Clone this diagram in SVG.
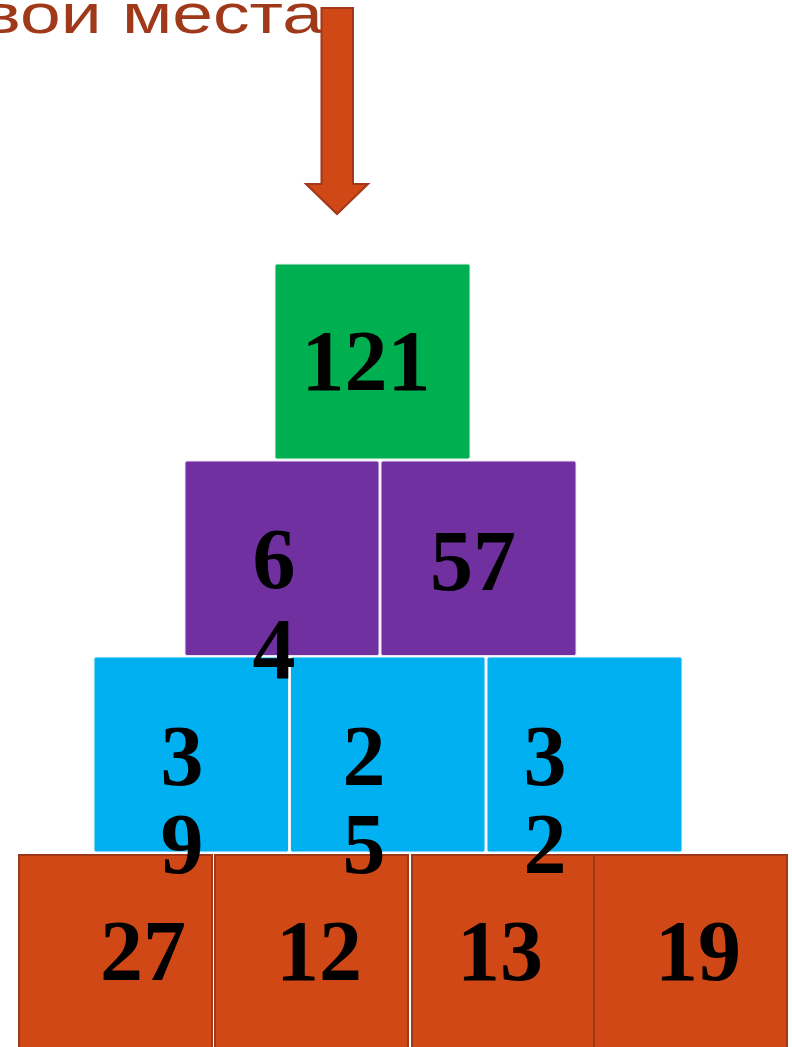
<svg xmlns="http://www.w3.org/2000/svg" width="792" height="1047" viewBox="0 0 792 1047">
<style>
.t{font-family:"Liberation Serif","Times New Roman",serif;font-weight:bold;font-size:86px;fill:#000;text-anchor:middle}
.o{fill:#D14817;stroke:#A0381A;stroke-width:2}
.b{fill:#00B0F0;stroke:#E8F6FC;stroke-width:1}
.p{fill:#7030A0;stroke:#EDE3F4;stroke-width:1}
.g{fill:#00AF50;stroke:#E3F5EA;stroke-width:1}
.title{font-family:"Liberation Sans",Arial,sans-serif;font-size:56px;fill:#A0381A}
</style>
<rect width="792" height="1047" fill="#fff"/>
<text class="title" x="-18" y="33" textLength="341" lengthAdjust="spacingAndGlyphs">вои места</text>
<g id="connectors">
<polygon points="321.5,8 353,8 353,184 368,184 337,214 306,184 321.5,184" fill="#D14817" stroke="#A0381A" stroke-width="2"/>
</g>
<g id="n27"><rect class="o" x="19" y="855" width="193" height="200"/><text class="t" x="143" y="980">27</text></g>
<g id="n12"><rect class="o" x="215" y="855" width="193" height="200"/><text class="t" x="319" y="980">12</text></g>
<g id="n13"><rect class="o" x="412" y="855" width="193" height="200"/><text class="t" x="500" y="980">13</text></g>
<g id="n19"><rect class="o" x="594" y="855" width="193" height="200"/><text class="t" x="698" y="980">19</text></g>
<g id="n39"><rect class="b" x="94" y="657" width="194.5" height="195" rx="2"/><text class="t" x="182" y="785">3</text><text class="t" x="182" y="873">9</text></g>
<g id="n25"><rect class="b" x="290.5" y="657" width="194.5" height="195" rx="2"/><text class="t" x="364" y="785">2</text><text class="t" x="364" y="873">5</text></g>
<g id="n32"><rect class="b" x="487" y="657" width="195" height="195" rx="2"/><text class="t" x="545" y="785">3</text><text class="t" x="545" y="873">2</text></g>
<g id="n64"><rect class="p" x="185" y="461" width="194" height="194.5" rx="2"/><text class="t" x="274" y="588">6</text><text class="t" x="274" y="678">4</text></g>
<g id="n57"><rect class="p" x="381" y="461" width="195" height="194.5" rx="2"/><text class="t" x="473" y="590">57</text></g>
<g id="n121"><rect class="g" x="275" y="264" width="195" height="195" rx="2"/><text class="t" x="366" y="390">121</text></g>
</svg>
